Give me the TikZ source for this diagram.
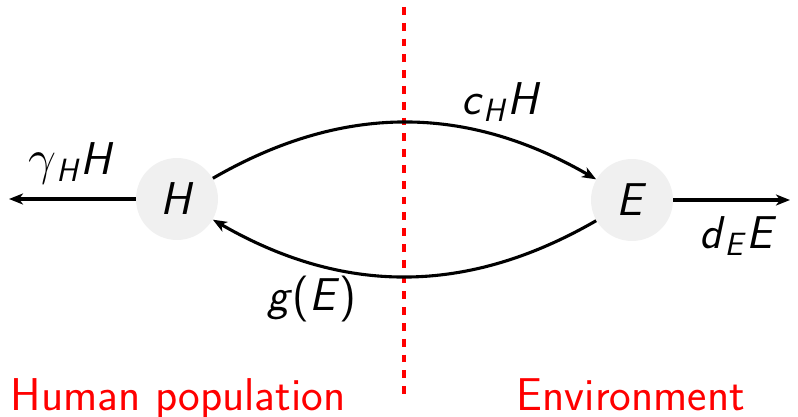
\documentclass[tikz,border=0pt]{standalone}
\usetikzlibrary{arrows.meta}
\definecolor{nodegray}{RGB}{240,240,240}
\definecolor{envred}{RGB}{255,0,0}
\newcommand{\mv}[1]{\textsl{#1}}
\newcommand{\msub}[1]{\textsubscript{\textsl{#1}}}
\begin{document}
\begin{tikzpicture}[x=0.5pt,y=-0.5pt,
  every node/.style={font=\fontsize{23}{27}\selectfont\sffamily},
  state/.style={circle,fill=nodegray,minimum size=41pt,inner sep=0pt},
  flow/.style={line width=1.55pt,-{Stealth[length=7pt,width=5.5pt,inset=2pt]}},
  region/.style={text=envred,anchor=base},
  divider/.style={envred,line width=1.6pt,dash pattern=on 3.9pt off 4pt}]
\useasboundingbox (0,0) rectangle (798,417);
\node[state] (H) at (177,199) {\mv{H}};
\node[state] (E) at (632,200) {\mv{E}};
\coordinate (divtop) at (404,7);
\coordinate (divbot) at (404,395);
\draw[divider] (divtop) -- (divbot);
\coordinate (Lend) at (9,199);
\coordinate (Rend) at (790,200);
\draw[flow] (H.west) -- (Lend);
\draw[flow] (E.east) -- (Rend);
\draw[flow] (H.30) to[out=30,in=150,looseness=1.0] (E.150);
\draw[flow] (E.-150) to[out=-150,in=-30,looseness=1.0] (H.-30);
\node (gH) at (71,163) {$\gamma$\msub{H}\mv{H}};
\node (cH) at (501,102) {\mv{c}\msub{H}\mv{H}};
\node (dE) at (738,236) {\mv{d}\msub{E}\mv{E}};
\node (gE) at (312,299) {\mv{g}(\mv{E})};
\node[region] (hum) at (178,410) {Human population};
\node[region] (env) at (631,410) {Environment};
\end{tikzpicture}
\end{document}
